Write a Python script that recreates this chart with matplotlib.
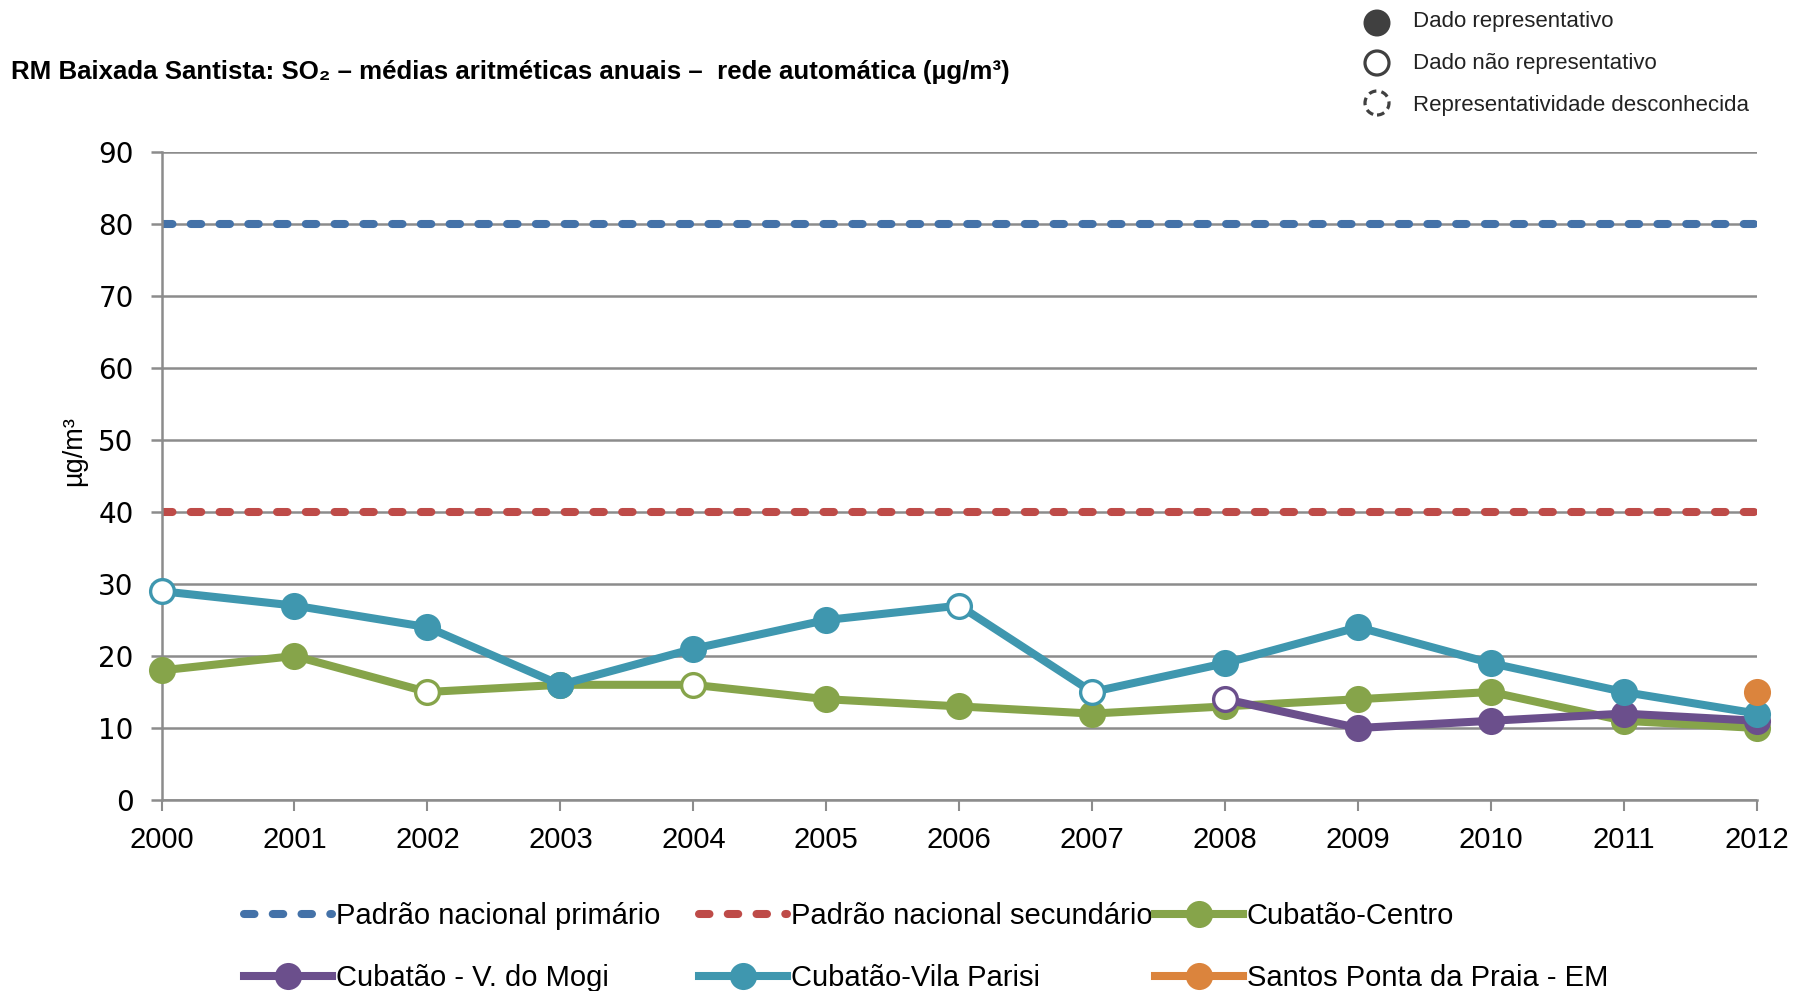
"""
RM Baixada Santista: SO2 annual means, automatic network (2000-2012).
"""

import matplotlib

matplotlib.use("Agg")
import matplotlib.pyplot as plt
from matplotlib.lines import Line2D
from matplotlib.patches import Circle

# data
years = list(range(2000, 2013))
padrao_primario = 80
padrao_secundario = 40

centro_years = years
centro_vals = [18, 20, 15, 16, 16, 14, 13, 12, 13, 14, 15, 11, 10]
centro_open = [2002, 2004]

mogi_years = [2008, 2009, 2010, 2011, 2012]
mogi_vals = [14, 10, 11, 12, 11]
mogi_open = [2008]

parisi_years = years
parisi_vals = [29, 27, 24, 16, 21, 25, 27, 15, 19, 24, 19, 15, 12]
parisi_open = [2000, 2006, 2007]

santos_years = [2012]
santos_vals = [15]
santos_open = []

yticks = list(range(0, 100, 10))

BLUE = "#4472A8"
RED = "#BE4B48"
GREEN = "#86A44A"
PURPLE = "#6B4F8C"
TEAL = "#3F97AF"
ORANGE = "#DB843D"
GRID = "#8C8C8C"
DARK = "#404040"

SANS = ["Liberation Sans", "DejaVu Sans"]

LW = 5.8
MS = 19.5
DASH = (0, (1.3, 2.27))

fig = plt.figure(figsize=(17.96, 9.91), dpi=100)
ax = fig.add_axes([161.5 / 1796, 1 - 800 / 991, (1757 - 161.5) / 1796, 648 / 991])

ax.set_xlim(2000, 2012)
ax.set_ylim(0, 90)
ax.set_yticks(yticks)
ax.set_xticks(years)
ax.yaxis.grid(True, color=GRID, lw=1.8, zorder=0)
ax.set_axisbelow(True)
for side in ("top", "right"):
    ax.spines[side].set_visible(False)
ax.spines["left"].set_color(GRID)
ax.spines["left"].set_linewidth(1.8)
ax.spines["bottom"].set_color(GRID)
ax.spines["bottom"].set_linewidth(1.8)
ax.tick_params(axis="y", length=8, width=1.8, color=GRID, pad=12, labelsize=20)
ax.tick_params(axis="x", length=8, width=1.5, color=GRID, pad=11)
for lab in ax.get_xticklabels():
    lab.set_family(SANS)
    lab.set_fontsize(21)

ax.plot([2000, 2012], [padrao_primario] * 2, color=BLUE, lw=LW, ls=DASH,
        dash_capstyle="round", zorder=2, label="Padrão nacional primário")
ax.plot([2000, 2012], [padrao_secundario] * 2, color=RED, lw=LW, ls=DASH,
        dash_capstyle="round", zorder=2, label="Padrão nacional secundário")

series = [
    ("Cubatão-Centro", centro_years, centro_vals, centro_open, GREEN, 3),
    ("Cubatão - V. do Mogi", mogi_years, mogi_vals, mogi_open, PURPLE, 4),
    ("Cubatão-Vila Parisi", parisi_years, parisi_vals, parisi_open, TEAL, 5),
    ("Santos Ponta da Praia - EM", santos_years, santos_vals, santos_open, ORANGE, 6),
]
for name, xs, ys, opn, col, z in series:
    filled = [i for i, x in enumerate(xs) if x not in opn]
    ax.plot(xs, ys, color=col, lw=LW, marker="o", ms=MS, mew=0,
            markevery=filled, zorder=z, clip_on=False, label=name)
    ox = [x for x in xs if x in opn]
    oy = [y for x, y in zip(xs, ys) if x in opn]
    if ox:
        ax.plot(ox, oy, ls="none", marker="o", ms=MS - 2.4, mfc="white",
                mec=col, mew=2.4, zorder=z + 0.5, clip_on=False)

# bottom legend, three columns of two rows
colors = {h.get_label(): h.get_color() for h in ax.get_lines()}
cols = [
    (244, ["Padrão nacional primário", "Cubatão - V. do Mogi"]),
    (699, ["Padrão nacional secundário", "Cubatão-Vila Parisi"]),
    (1155, ["Cubatão-Centro", "Santos Ponta da Praia - EM"]),
]
for x0, names in cols:
    hs = []
    for n in names:
        if n.startswith("Padrão"):
            hs.append(Line2D([], [], color=colors[n], lw=LW, ls=DASH, dash_capstyle="round"))
        else:
            hs.append(Line2D([], [], color=colors[n], lw=LW, marker="o", ms=MS, mew=0))
    fig.legend(hs, names, loc="upper left", bbox_to_anchor=(x0 / 1796, 1 - 902 / 991),
               frameon=False, borderpad=0, borderaxespad=0, handlelength=3.0,
               handletextpad=0.15, labelspacing=1.17,
               prop={"family": SANS, "size": 21})

# title and axis label
fig.text(11 / 1796, 1 - 72 / 991,
         "RM Baixada Santista: SO₂ – médias aritméticas anuais –  rede automática (µg/m³)",
         family=SANS, fontweight="bold", fontsize=18.6, va="center", ha="left")
fig.text(74 / 1796, 1 - 451 / 991, "µg/m³", rotation=90, ha="center", va="center",
         family=SANS, fontsize=19.5)

# representativeness key (top right)
key = [
    ("Dado representativo", 23, 21, "filled"),
    ("Dado não representativo", 63, 64, "open"),
    ("Representatividade desconhecida", 103, 106, "dashed"),
]
H = 991 / 100
for text, ypx, ty, kind in key:
    cx, cy = 1377 / 100, H - ypx / 100
    if kind == "filled":
        c = Circle((cx, cy), 0.135, transform=fig.dpi_scale_trans, fc=DARK, ec="none")
    elif kind == "open":
        c = Circle((cx, cy), 0.12, transform=fig.dpi_scale_trans, fc="white", ec=DARK, lw=2.3)
    else:
        c = Circle((cx, cy), 0.12, transform=fig.dpi_scale_trans, fc="white", ec=DARK,
                   lw=2.3, ls=(0, (2.4, 1.6)))
    fig.add_artist(c)
    fig.text(1413 / 1796, 1 - ty / 991, text, family=SANS, fontsize=16,
             va="center", ha="left", color="#222222")

fig.savefig("out.png", dpi=100)
